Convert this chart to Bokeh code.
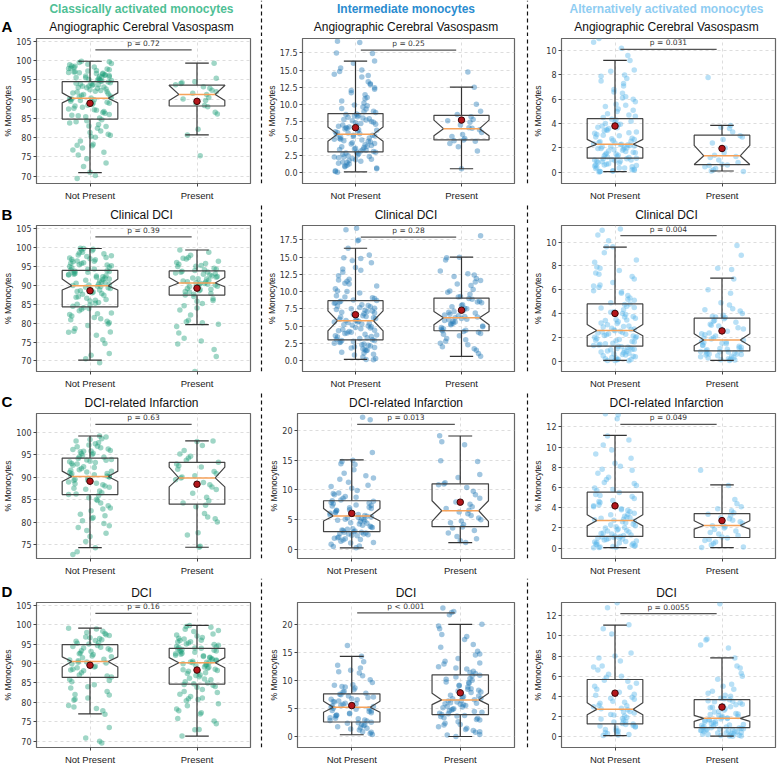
from bokeh.plotting import figure
from bokeh.layouts import row, column
from bokeh.models import ColumnDataSource, FixedTicker, Range1d
from bokeh.core.properties import value
from bokeh.embed import file_html
from bokeh.resources import INLINE

# ---------------------------------------------------------------- labels
OUTCOMES = ["Angiographic Cerebral Vasospasm", "Clinical DCI",
            "DCI-related Infarction", "DCI"]
ROW_LETTERS = ["A", "B", "C", "D"]
SUBSETS = ["Classically activated monocytes", "Intermediate monocytes",
           "Alternatively activated monocytes"]
GROUPS = ["Not Present", "Present"]
Y_LABEL = "% Monocytes"

# p-values, row-major (outcome x subset)
P_TEXT = ["p = 0.72", "p = 0.25", "p = 0.031",
          "p = 0.39", "p = 0.28", "p = 0.004",
          "p = 0.63", "p = 0.013", "p = 0.049",
          "p = 0.16", "p < 0.001", "p = 0.0055"]
P_LINE_Y = [102.75, 17.9, 10.1,
            102.9, 17.9, 10.54,
            101.8, 21.0, 12.24,
            102.9, 22.15, 12.22]

# y tick values and their labels
T_CLASS = [70, 75, 80, 85, 90, 95, 100, 105]
L_CLASS = ["70", "75", "80", "85", "90", "95", "100", "105"]
T_CLASS_C = [75, 80, 85, 90, 95, 100]
L_CLASS_C = ["75", "80", "85", "90", "95", "100"]
T_INT_AB = [0, 2.5, 5, 7.5, 10, 12.5, 15, 17.5]
L_INT_AB = ["0.0", "2.5", "5.0", "7.5", "10.0", "12.5", "15.0", "17.5"]
T_INT_CD = [0, 5, 10, 15, 20]
L_INT_CD = ["0", "5", "10", "15", "20"]
T_ALT_AB = [0, 2, 4, 6, 8, 10]
L_ALT_AB = ["0", "2", "4", "6", "8", "10"]
T_ALT_CD = [0, 2, 4, 6, 8, 10, 12]
L_ALT_CD = ["0", "2", "4", "6", "8", "10", "12"]

# box statistics per panel, [Not Present, Present]
WHISKER_LO = [[70.9, 80.7], [0.15, 0.6], [0.05, 0.1],
              [70.2, 79.6], [0.15, 0.6], [0.05, 0.05],
              [74.4, 74.5], [0.3, 1.17], [0.05, 0.05],
              [77.0, 71.3], [0.36, 0.05], [0.1, 0.05]]
Q1 = [[84.8, 88.2], [3.05, 4.8], [1.15, 0.63],
      [84.35, 87.45], [3.0, 4.32], [1.25, 0.85],
      [86.2, 84.07], [3.0, 3.85], [1.15, 1.05],
      [86.4, 84.7], [2.64, 3.95], [1.25, 0.89]]
MEDIAN = [[90.2, 91.2], [5.65, 6.45], [2.3, 1.35],
          [89.9, 90.65], [5.77, 6.2], [2.56, 1.76],
          [90.2, 89.9], [5.62, 6.52], [2.73, 2.23],
          [90.5, 90.2], [5.27, 6.59], [2.7, 1.81]]
Q3 = [[94.5, 93.6], [8.65, 8.4], [4.4, 3.05],
      [94.0, 93.85], [8.68, 9.06], [4.8, 3.6],
      [94.3, 93.36], [8.19, 11.04], [5.53, 3.42],
      [94.85, 93.9], [7.67, 11.08], [5.67, 3.66]]
WHISKER_HI = [[99.8, 99.3], [16.3, 12.5], [9.2, 3.85],
              [99.8, 99.4], [16.3, 15.0], [9.57, 6.96],
              [99.2, 98.1], [15.05, 19.06], [11.15, 6.25],
              [99.1, 99.8], [14.37, 20.1], [11.08, 7.81]]
MEAN = [[88.9, 89.4], [6.6, 7.7], [3.8, 1.95],
        [88.6, 89.3], [6.65, 7.3], [4.0, 2.53],
        [89.16, 88.5], [6.07, 7.96], [4.18, 2.72],
        [89.55, 88.3], [5.57, 7.85], [4.31, 2.93]]
NOTCH_LO = [[89.0, 89.6], [4.6, 5.4], [2.0, 0.63],
            [88.8, 89.65], [4.3, 5.2], [2.13, 1.28],
            [89.1, 87.9], [4.8, 4.73], [2.2, 1.88],
            [89.1, 88.9], [4.37, 5.75], [2.17, 1.51]]
NOTCH_HI = [[91.6, 93.5], [6.7, 7.7], [2.7, 2.2],
            [91.7, 92.1], [7.2, 7.1], [3.07, 2.3],
            [91.4, 92.3], [6.9, 8.2], [3.3, 2.7],
            [91.7, 91.5], [6.35, 7.78], [3.36, 2.1]]

# individual patient values (% of monocytes)
A1_NP = [69.4, 70.2, 71.0, 73.4, 74.5, 75.5, 76.2, 77.3, 77.9, 78.3, 79.1, 80.3, 80.6, 80.9, 81.7,
         82.4, 83.0, 83.4, 84.1, 84.6, 85.1, 85.4, 86.0, 86.3, 86.5, 87.1, 87.4, 87.6, 88.2, 88.4,
         88.9, 89.2, 89.4, 89.8, 90.0, 90.1, 90.4, 90.6, 91.0, 91.2, 91.6, 91.8, 92.0, 92.4, 92.6,
         92.9, 93.0, 93.1, 93.3, 93.6, 93.8, 93.9, 94.0, 94.2, 94.4, 94.7, 94.9, 95.1, 95.3, 95.6,
         95.7, 95.9, 96.0, 96.1, 96.3, 96.5, 96.6, 96.9, 97.0, 97.1, 97.3, 97.6, 97.8, 98.0, 98.3,
         98.6, 98.9, 99.2, 99.5, 99.8, 72.5, 76.8, 78.0, 80.1, 81.3, 82.9, 84.4, 85.7, 86.8, 87.9,
         88.6, 89.0, 89.6, 90.3, 90.8, 91.4, 92.2, 92.8, 93.4, 93.7, 94.1, 94.6, 95.0, 95.5, 95.8,
         96.2, 96.7, 97.4, 97.9, 98.2, 98.5, 99.0, 99.7, 91.9, 89.9, 87.2, 85.8, 83.8, 94.8, 96.8]
A1_P = [75.3, 80.7, 82.2, 86.1, 86.6, 88.0, 88.3, 88.9, 89.6, 90.0, 90.4, 91.2, 91.5, 91.9, 92.3,
        92.8, 93.2, 93.7, 94.0, 94.2, 94.5, 95.4, 99.3]
A2_NP = [0.1, 0.2, 0.6, 0.9, 1.1, 1.3, 1.4, 1.6, 1.7, 1.9, 2.0, 2.1, 2.3, 2.4, 2.5, 2.6, 2.8, 2.9,
         3.0, 3.0, 3.1, 3.3, 3.4, 3.5, 3.7, 3.8, 3.9, 4.1, 4.2, 4.3, 4.5, 4.6, 4.8, 4.9, 5.0, 5.2,
         5.3, 5.4, 5.5, 5.6, 5.7, 5.9, 6.0, 6.2, 6.4, 6.5, 6.7, 6.8, 7.0, 7.2, 7.3, 7.5, 7.6, 7.8,
         7.9, 8.1, 8.2, 8.4, 8.5, 8.6, 8.8, 9.0, 9.3, 9.6, 9.9, 10.2, 10.5, 11.0, 11.4, 12.0, 12.4,
         12.9, 13.3, 14.0, 14.4, 14.8, 15.3, 16.0, 16.3, 17.4, 17.5, 19.0, 19.2, 0.3, 0.7, 1.0,
         1.5, 1.8, 2.2, 2.7, 3.2, 3.6, 4.0, 4.4, 4.7, 5.1, 5.8, 6.1, 6.3, 6.6, 6.9, 7.1, 7.4, 7.7,
         8.0, 8.3, 8.9, 9.4, 9.8, 10.8, 11.7, 12.2, 13.0, 14.2, 15.0, 2.3, 3.4, 4.9, 5.5]
A2_P = [0.6, 3.2, 3.8, 4.3, 4.6, 4.7, 4.8, 5.0, 5.3, 5.6, 5.9, 6.3, 6.5, 6.6, 7.0, 7.4, 7.6, 7.8,
        8.2, 8.5, 9.0, 10.0, 12.5, 14.7]
A3_NP = [0.02, 0.05, 0.1, 0.15, 0.2, 0.3, 0.35, 0.4, 0.5, 0.55, 0.6, 0.65, 0.7, 0.8, 0.85, 0.9,
         0.95, 1.0, 1.05, 1.1, 1.2, 1.25, 1.3, 1.4, 1.45, 1.5, 1.6, 1.65, 1.7, 1.8, 1.85, 1.9, 1.95,
         2.0, 2.05, 2.1, 2.15, 2.2, 2.25, 2.3, 2.35, 2.45, 2.5, 2.6, 2.7, 2.8, 2.9, 3.0, 3.1, 3.2,
         3.3, 3.4, 3.5, 3.6, 3.7, 3.8, 3.95, 4.1, 4.2, 4.35, 4.5, 4.7, 4.8, 5.0, 5.2, 5.4, 5.6, 5.8,
         6.0, 6.2, 6.5, 6.8, 7.1, 7.5, 7.7, 8.0, 8.3, 8.4, 9.2, 9.6, 10.2, 10.7, 11.0, 0.05, 0.12,
         0.25, 0.45, 0.6, 0.75, 0.9, 1.0, 1.15, 1.35, 1.55, 1.75, 1.95, 2.1, 2.25, 2.4, 2.55, 2.75,
         3.05, 3.25, 3.45, 3.65, 3.9, 4.0, 4.3, 4.6, 5.1, 5.5, 6.1, 6.6, 7.3, 7.9, 1.1, 0.35]
A3_P = [0.05, 0.1, 0.2, 0.3, 0.45, 0.55, 0.6, 0.65, 0.8, 1.0, 1.2, 1.3, 1.4, 1.6, 2.0, 2.4, 2.7,
        2.9, 3.0, 3.3, 3.6, 3.7, 3.85, 7.8]
B1_NP = [69.5, 70.6, 72.0, 74.6, 75.6, 76.8, 77.6, 77.9, 78.6, 79.4, 80.1, 80.5, 80.9, 81.5, 81.9,
         82.3, 82.7, 83.3, 83.7, 84.1, 84.5, 85.0, 85.3, 85.9, 86.3, 86.6, 87.0, 87.4, 87.7, 88.1,
         88.3, 88.6, 88.9, 89.2, 89.4, 89.7, 89.8, 90.1, 90.4, 90.6, 90.9, 91.2, 91.4, 91.7, 92.0,
         92.3, 92.5, 92.8, 93.0, 93.2, 93.5, 93.7, 93.9, 94.1, 94.4, 94.7, 95.0, 95.2, 95.5, 95.8,
         96.0, 96.3, 96.5, 96.8, 97.1, 97.4, 97.7, 98.1, 98.4, 98.8, 99.2, 99.6, 99.9, 71.5, 77.7,
         79.8, 81.2, 82.5, 83.9, 85.5, 86.9, 87.9, 88.8, 89.5, 90.3, 90.8, 91.6, 92.2, 92.9, 93.4,
         93.8, 94.3, 94.9, 95.4, 95.9, 96.4, 96.9, 97.3, 97.9, 98.6, 99.4, 99.8, 90.0, 88.4, 86.1,
         84.8, 92.6]
B1_P = [67.2, 71.2, 73.0, 74.5, 75.3, 77.4, 79.1, 79.7, 80.4, 80.8, 82.2, 83.5, 84.6, 85.2, 85.8,
        86.5, 87.1, 87.5, 87.9, 88.3, 88.6, 88.9, 89.2, 89.5, 89.8, 90.1, 90.3, 90.5, 90.7, 90.9,
        91.2, 91.4, 91.7, 92.0, 92.2, 92.5, 92.8, 93.0, 93.3, 93.5, 93.8, 94.0, 94.3, 94.6, 95.0,
        95.3, 95.6, 96.1, 96.4, 97.0, 97.4, 98.0, 99.4, 76.0, 80.1, 84.0, 86.0, 87.7, 88.4, 89.0,
        89.7, 90.2, 90.6, 91.0, 91.8, 92.4, 93.1, 93.6, 94.2, 95.1, 95.8, 97.2, 98.8]
B2_NP = [0.1, 0.15, 0.5, 0.8, 1.1, 1.2, 1.5, 1.6, 1.8, 1.9, 2.1, 2.2, 2.3, 2.5, 2.6, 2.7, 2.8, 2.9,
         3.0, 3.1, 3.2, 3.4, 3.6, 3.7, 3.9, 4.0, 4.2, 4.3, 4.5, 4.6, 4.8, 4.9, 5.1, 5.2, 5.4, 5.5,
         5.6, 5.7, 5.8, 5.9, 6.1, 6.2, 6.4, 6.5, 6.6, 6.8, 7.0, 7.1, 7.3, 7.5, 7.6, 7.8, 8.0, 8.1,
         8.3, 8.5, 8.6, 8.8, 9.0, 9.1, 9.4, 9.8, 10.1, 10.4, 10.8, 11.2, 11.5, 11.8, 12.3, 12.8,
         13.1, 13.5, 14.2, 14.5, 14.9, 15.3, 16.3, 17.4, 17.5, 19.0, 19.2, 0.3, 0.9, 1.4, 1.7, 2.0,
         2.4, 2.9, 3.3, 3.8, 4.1, 4.4, 4.7, 5.0, 5.3, 5.6, 6.0, 6.3, 6.7, 6.9, 7.2, 7.4, 7.7, 7.9,
         8.4, 8.7, 9.2, 10.0, 11.1, 11.7, 13.3, 14.8, 5.8, 3.5]
B2_P = [0.6, 1.5, 1.7, 2.3, 2.5, 2.8, 3.2, 3.6, 3.9, 4.1, 4.3, 4.4, 4.6, 4.8, 5.0, 5.2, 5.4, 5.6,
        5.8, 5.9, 6.0, 6.1, 6.3, 6.5, 6.7, 6.9, 7.1, 7.3, 7.6, 7.8, 8.1, 8.4, 8.6, 8.9, 9.0, 9.3,
        9.6, 9.9, 10.3, 10.9, 11.1, 11.6, 11.9, 12.4, 12.6, 13.0, 14.6, 14.9, 15.0, 18.1, 1.0, 2.0,
        3.0, 3.8, 4.5, 4.9, 5.3, 5.7, 6.2, 6.6, 7.0, 7.5, 8.0, 8.5, 9.2, 10.1, 11.4, 12.2, 4.2, 6.4]
B3_NP = [0.02, 0.05, 0.1, 0.15, 0.2, 0.25, 0.35, 0.4, 0.5, 0.55, 0.6, 0.7, 0.75, 0.8, 0.9, 0.95,
         1.0, 1.1, 1.15, 1.2, 1.3, 1.35, 1.4, 1.5, 1.6, 1.65, 1.75, 1.8, 1.9, 2.0, 2.05, 2.15, 2.2,
         2.3, 2.35, 2.45, 2.5, 2.55, 2.65, 2.75, 2.85, 2.95, 3.05, 3.15, 3.3, 3.4, 3.5, 3.6, 3.75,
         3.9, 4.0, 4.15, 4.3, 4.45, 4.6, 4.75, 4.9, 5.1, 5.3, 5.5, 5.7, 5.9, 6.2, 6.4, 6.6, 6.9,
         7.1, 7.4, 7.6, 7.9, 8.3, 8.5, 9.1, 9.6, 10.1, 10.6, 11.0, 11.1, 0.05, 0.12, 0.3, 0.45,
         0.65, 0.85, 1.05, 1.25, 1.45, 1.7, 1.95, 2.1, 2.25, 2.4, 2.6, 2.9, 3.2, 3.45, 3.7, 4.1,
         4.5, 4.8, 5.2, 5.8, 6.3, 7.3, 7.8, 9.6, 2.7, 1.0]
B3_P = [0.05, 0.1, 0.15, 0.25, 0.3, 0.4, 0.45, 0.55, 0.6, 0.7, 0.75, 0.8, 0.85, 0.95, 1.05, 1.15,
        1.25, 1.35, 1.45, 1.55, 1.65, 1.75, 1.85, 1.95, 2.1, 2.2, 2.35, 2.5, 2.65, 2.8, 2.95, 3.1,
        3.25, 3.4, 3.55, 3.65, 3.75, 3.85, 4.0, 4.2, 4.4, 4.7, 4.9, 5.7, 6.0, 6.9, 7.7, 7.8, 8.9,
        9.7, 0.08, 0.2, 0.35, 0.5, 0.65, 0.78, 0.9, 1.1, 1.3, 1.6, 1.9, 2.3, 2.7, 3.0, 3.35, 3.7,
        4.3, 0.6, 1.0, 1.5]
C1_NP = [72.9, 73.5, 74.4, 76.9, 77.6, 78.2, 78.9, 79.8, 80.4, 80.9, 81.1, 81.8, 82.6, 83.2, 83.7,
         84.3, 84.9, 85.5, 86.0, 86.3, 86.6, 87.0, 87.4, 87.8, 88.1, 88.4, 88.7, 89.0, 89.3, 89.6,
         89.8, 90.1, 90.3, 90.5, 90.6, 90.8, 91.1, 91.4, 91.7, 92.0, 92.4, 92.7, 93.0, 93.3, 93.6,
         93.8, 93.9, 94.2, 94.5, 94.8, 95.1, 95.4, 95.7, 95.9, 96.0, 96.3, 96.6, 96.9, 97.2, 97.7,
         98.1, 98.6, 99.2, 75.8, 79.3, 81.5, 83.0, 85.1, 86.2, 87.6, 88.6, 89.4, 90.2, 90.9, 91.6,
         92.2, 93.1, 93.5, 94.0, 94.6, 95.3, 95.8, 96.2, 96.8, 97.5, 98.4, 99.0, 91.2]
C1_P = [74.5, 74.7, 77.2, 77.7, 80.1, 80.8, 81.2, 82.0, 83.5, 83.8, 84.3, 84.8, 85.6, 86.5, 87.3,
        87.9, 88.4, 88.9, 89.5, 89.9, 90.1, 90.4, 90.9, 91.3, 91.8, 92.3, 92.6, 93.0, 93.4, 93.8,
        94.3, 94.7, 95.2, 96.0, 97.1, 98.0, 98.1]
C2_NP = [0.3, 0.5, 0.9, 1.2, 1.4, 1.6, 1.8, 1.9, 2.1, 2.3, 2.4, 2.5, 2.6, 2.7, 2.8, 2.9, 3.0, 3.1,
         3.3, 3.5, 3.7, 3.9, 4.1, 4.3, 4.5, 4.7, 4.9, 5.0, 5.2, 5.3, 5.5, 5.6, 5.7, 5.9, 6.1, 6.3,
         6.5, 6.7, 6.9, 7.1, 7.3, 7.5, 7.7, 7.9, 8.1, 8.3, 8.6, 8.9, 9.2, 9.5, 9.9, 10.3, 10.8,
         11.3, 11.8, 12.4, 12.8, 13.4, 14.3, 14.8, 15.0, 16.3, 21.8, 22.2, 0.6, 1.1, 1.7, 2.0, 2.6,
         2.9, 3.4, 3.8, 4.4, 4.8, 5.4, 5.8, 6.2, 6.6, 7.0, 7.4, 7.8, 8.2, 8.8, 9.4, 10.6, 12.0,
         14.4, 3.2, 5.1]
C2_P = [1.2, 1.5, 1.8, 2.2, 2.8, 3.2, 3.6, 3.8, 4.2, 4.5, 4.8, 5.0, 5.3, 5.7, 6.0, 6.3, 6.6, 6.9,
        7.2, 7.6, 8.0, 8.6, 9.2, 9.8, 10.4, 10.9, 11.0, 11.2, 12.1, 12.6, 14.8, 14.9, 17.6, 18.1,
        19.1]
C3_NP = [0.03, 0.05, 0.1, 0.15, 0.2, 0.3, 0.4, 0.5, 0.55, 0.6, 0.7, 0.8, 0.85, 0.95, 1.0, 1.1,
         1.15, 1.2, 1.3, 1.4, 1.5, 1.6, 1.7, 1.8, 1.9, 2.0, 2.1, 2.2, 2.35, 2.5, 2.6, 2.75, 2.85,
         2.95, 3.05, 3.15, 3.3, 3.45, 3.6, 3.75, 3.9, 4.1, 4.3, 4.5, 4.7, 4.9, 5.1, 5.3, 5.5, 5.7,
         5.95, 6.2, 6.5, 6.8, 7.0, 7.4, 7.8, 8.1, 8.4, 8.9, 9.7, 10.2, 10.7, 11.1, 12.8, 13.2, 13.3,
         0.08, 0.25, 0.45, 0.65, 0.9, 1.05, 1.25, 1.45, 1.75, 2.05, 2.3, 2.65, 3.0, 3.35, 3.8, 4.2,
         4.6, 5.2, 5.8, 6.4, 7.7, 9.3, 1.0, 0.35, 2.8]
C3_P = [0.05, 0.1, 0.3, 0.45, 0.6, 0.75, 0.85, 1.0, 1.1, 1.25, 1.4, 1.55, 1.7, 1.85, 2.0, 2.1,
        2.2, 2.3, 2.45, 2.6, 2.75, 2.9, 3.0, 3.2, 3.35, 3.5, 3.7, 3.9, 4.1, 4.4, 4.8, 6.2, 7.7]
D1_NP = [69.5, 70.0, 70.8, 73.5, 76.9, 77.8, 78.4, 79.2, 80.6, 80.8, 81.1, 81.9, 82.8, 83.7, 84.5,
         85.3, 85.9, 86.5, 87.0, 87.6, 88.1, 88.5, 88.9, 89.3, 89.7, 90.1, 90.4, 90.7, 91.1, 91.5,
         91.9, 92.3, 92.7, 93.1, 93.5, 93.8, 94.2, 94.6, 95.0, 95.3, 95.7, 96.1, 96.4, 96.8, 97.2,
         97.7, 98.3, 98.9, 99.1, 78.8, 82.0, 84.0, 85.6, 86.8, 88.3, 89.1, 89.9, 90.9, 91.7, 92.5,
         93.3, 94.0, 94.4, 95.2, 95.9, 96.6, 97.4, 98.0, 90.3]
D1_P = [71.3, 72.9, 74.5, 75.2, 75.8, 77.3, 77.8, 78.3, 79.6, 80.4, 80.9, 81.5, 82.1, 82.8, 83.3,
        83.9, 84.4, 84.8, 85.3, 85.8, 86.2, 86.6, 87.0, 87.4, 87.8, 88.2, 88.5, 88.8, 89.1, 89.4,
        89.6, 89.9, 90.1, 90.3, 90.6, 90.9, 91.2, 91.5, 91.8, 92.1, 92.4, 92.6, 92.9, 93.2, 93.4,
        93.7, 93.9, 94.1, 94.4, 94.7, 95.0, 95.3, 95.6, 95.9, 96.3, 96.7, 97.1, 97.6, 98.2, 98.8,
        99.3, 99.8, 73.0, 77.0, 79.1, 80.7, 82.5, 84.1, 85.0, 86.0, 86.9, 87.6, 88.4, 89.0, 89.7,
        90.2, 90.7, 91.0, 91.6, 92.0, 92.5, 93.0, 93.6, 94.0, 94.3, 94.9, 95.5, 96.0, 96.5, 97.3,
        98.5, 99.5, 88.0, 90.4, 93.3, 84.6, 81.1]
D2_NP = [0.4, 0.6, 0.9, 1.2, 1.4, 1.6, 1.8, 2.0, 2.2, 2.4, 2.6, 2.8, 3.0, 3.2, 3.4, 3.7, 3.9, 4.1,
         4.3, 4.5, 4.7, 4.9, 5.1, 5.3, 5.4, 5.6, 5.8, 6.0, 6.2, 6.4, 6.6, 6.8, 7.0, 7.3, 7.6, 7.8,
         8.1, 8.4, 8.7, 9.0, 9.3, 9.7, 10.2, 10.9, 11.4, 11.9, 12.3, 12.8, 13.4, 14.4, 16.3, 0.8,
         1.5, 2.1, 2.5, 2.9, 3.3, 3.8, 4.2, 4.6, 5.0, 5.5, 5.9, 6.3, 6.7, 7.1, 7.5, 8.0, 8.9, 9.2,
         11.6]
D2_P = [0.05, 0.4, 0.8, 1.1, 1.5, 1.8, 2.1, 2.4, 2.7, 3.0, 3.3, 3.6, 3.8, 4.0, 4.2, 4.4, 4.6, 4.8,
        5.0, 5.2, 5.4, 5.6, 5.8, 6.0, 6.2, 6.4, 6.6, 6.8, 7.0, 7.2, 7.4, 7.7, 8.0, 8.3, 8.6, 8.9,
        9.2, 9.5, 9.8, 10.1, 10.4, 10.7, 11.0, 11.3, 11.7, 12.1, 12.5, 13.0, 13.5, 14.0, 14.8,
        15.3, 16.0, 17.4, 18.3, 19.3, 20.1, 21.8, 22.2, 22.4, 23.0, 0.3, 1.3, 2.2, 3.1, 3.7, 4.1,
        4.5, 4.9, 5.3, 5.7, 6.1, 6.5, 6.9, 7.3, 7.9, 8.5, 9.1, 9.7, 10.3, 10.9, 11.5, 12.3, 13.2,
        14.6, 16.5, 17.9, 19.8, 3.4, 5.9, 8.2, 0.9]
D3_NP = [0.1, 0.2, 0.3, 0.45, 0.55, 0.7, 0.85, 1.0, 1.1, 1.2, 1.3, 1.45, 1.6, 1.75, 1.9, 2.05,
         2.2, 2.35, 2.5, 2.65, 2.8, 2.95, 3.1, 3.3, 3.5, 3.7, 3.9, 4.1, 4.4, 4.7, 5.0, 5.3, 5.6,
         5.9, 6.2, 6.6, 7.0, 7.5, 8.0, 8.3, 10.2, 10.7, 11.1, 12.8, 13.3, 0.15, 0.4, 0.6, 0.95,
         1.25, 1.5, 1.8, 2.15, 2.45, 2.75, 3.05, 3.4, 3.8, 4.2, 4.9, 5.5, 6.0, 6.9, 7.8, 1.05]
D3_P = [0.02, 0.05, 0.1, 0.15, 0.2, 0.25, 0.3, 0.35, 0.4, 0.45, 0.5, 0.55, 0.6, 0.65, 0.7, 0.75,
        0.8, 0.85, 0.9, 0.95, 1.0, 1.1, 1.2, 1.3, 1.4, 1.5, 1.6, 1.7, 1.8, 1.9, 2.0, 2.1, 2.2, 2.3,
        2.45, 2.6, 2.75, 2.9, 3.05, 3.2, 3.35, 3.5, 3.65, 3.8, 4.0, 4.3, 4.7, 5.2, 5.7, 6.3, 7.0,
        7.8, 8.8, 9.1, 9.6, 9.7, 13.2, 0.05, 0.12, 0.22, 0.38, 0.48, 0.62, 0.78, 0.88, 1.05, 1.25,
        1.45, 1.65, 1.85, 2.05, 2.25, 2.5, 2.85, 3.15, 3.45, 3.75, 4.1, 4.5, 5.0, 6.0, 6.8, 0.7,
        1.15, 1.75, 2.95, 3.55]

POINTS = [(A1_NP, A1_P), (A2_NP, A2_P), (A3_NP, A3_P),
          (B1_NP, B1_P), (B2_NP, B2_P), (B3_NP, B3_P),
          (C1_NP, C1_P), (C2_NP, C2_P), (C3_NP, C3_P),
          (D1_NP, D1_P), (D2_NP, D2_P), (D3_NP, D3_P)]
Y_TICKS = [(T_CLASS, L_CLASS), (T_INT_AB, L_INT_AB), (T_ALT_AB, L_ALT_AB),
           (T_CLASS, L_CLASS), (T_INT_AB, L_INT_AB), (T_ALT_AB, L_ALT_AB),
           (T_CLASS_C, L_CLASS_C), (T_INT_CD, L_INT_CD), (T_ALT_CD, L_ALT_CD),
           (T_CLASS, L_CLASS), (T_INT_CD, L_INT_CD), (T_ALT_CD, L_ALT_CD)]

# ---------------------------------------------------------------- layout / style
Y_LIMITS = [(68.1, 105.7), (-1.55, 19.6), (-0.93, 11.0),
            (67.2, 105.9), (-1.6, 19.6), (-0.88, 11.39),
            (72.0, 104.2), (-1.5, 22.84), (-1.03, 13.32),
            (68.36, 105.7), (-1.92, 24.0), (-1.09, 13.32)]
COL_W = [259, 261, 248]
BORDER_L = [32, 34, 27]
BORDER_R = [9, 10, 3]
SEP_W = [4, 6]
STRIP_H = [36, 20, 20, 22]          # title band above each row of panels
PANEL_H = [167, 168, 167, 178]
BORDER_T = 2
BORDER_B = [20, 20, 20, 31]
TITLE_MID = [9.3, 8.3, 9.0, 7.5]    # vertical centre of the texts inside the band
LETTER_MID = [9.8, 8.8, 9.8, 8.6]
HEADER_MID = 27.7
PAGE_W = sum(COL_W) + sum(SEP_W)

POINT_COLORS = ["#1b9e77", "#1f77b4", "#56b4e9"]
HEADER_COLORS = ["#4fbf95", "#2a8ccf", "#8fcdf2"]
BOX_HALF, NOTCH_HALF, CAP_HALF = 0.26, 0.17, 0.11
DASH = "4 3"

# horizontal spread of the strip points around each group centre
JITTER = [-0.12, 0.07, 0.18, -0.03, 0.11, -0.17, 0.02, 0.14, -0.08, 0.19, -0.15, 0.05, -0.01,
          0.16, -0.11, 0.09, -0.19, 0.03, 0.12, -0.06, 0.17, -0.14, 0.0, 0.08, -0.18, 0.13,
          -0.04, 0.2, -0.09, 0.06, -0.16, 0.1, -0.02, 0.15, -0.13, 0.04, -0.07, 0.18, -0.1,
          0.01, -0.2]

TEXT_FONT = "Liberation Sans"
NUM_FONT = "DejaVu Sans"

# page x of each column's left edge, frame centre and of the separators
COL_X0 = [0, COL_W[0] + SEP_W[0], COL_W[0] + SEP_W[0] + COL_W[1] + SEP_W[1]]
FRAME_CX = [COL_X0[c] + BORDER_L[c] + (COL_W[c] - BORDER_L[c] - BORDER_R[c]) / 2
            for c in range(3)]
SEP_X = [COL_W[0] + SEP_W[0] / 2, COL_X0[2] - SEP_W[1] / 2]


def blank(width, height, xr, yr):
    f = figure(width=width, height=height, x_range=xr, y_range=yr, output_backend="svg",
               toolbar_location=None, title=None, min_border=0, x_axis_location=None,
               y_axis_location=None, background_fill_color="white",
               border_fill_color="white")
    f.outline_line_color = None
    f.grid.visible = False
    return f


def make_strip(r):
    h = STRIP_H[r]
    s = blank(PAGE_W, h, Range1d(0, PAGE_W), Range1d(0, h))
    s.segment(x0=SEP_X, y0=[0, 0], x1=SEP_X, y1=[h, h], line_color="#111111",
              line_width=1.2, line_dash=DASH)
    s.text(x=FRAME_CX, y=[TITLE_MID[r]] * 3, text=[OUTCOMES[r]] * 3, text_align="center",
           text_baseline="middle", text_font=value(TEXT_FONT), text_font_size="12px",
           text_color="#111111")
    s.text(x=[1], y=[LETTER_MID[r]], text=[ROW_LETTERS[r]], text_align="left",
           text_baseline="middle", text_font=value(TEXT_FONT), text_font_size="15px",
           text_font_style="bold", text_color="#000000")
    if r == 0:
        src = ColumnDataSource(dict(x=FRAME_CX, y=[HEADER_MID] * 3, t=SUBSETS,
                                    c=HEADER_COLORS))
        s.text(x="x", y="y", text="t", text_color="c", source=src, text_align="center",
               text_baseline="middle", text_font=value(TEXT_FONT),
               text_font_size="12px", text_font_style="bold")
    return s


def make_separator(w, h):
    s = blank(w, h, Range1d(0, 1), Range1d(0, 1))
    s.segment(x0=[0.5], y0=[0], x1=[0.5], y1=[1], line_color="#111111", line_width=1.2,
              line_dash=DASH)
    return s


def make_panel(r, c):
    k = 3 * r + c
    p = figure(width=COL_W[c], height=PANEL_H[r], x_range=Range1d(0.5, 2.5),
               y_range=Range1d(*Y_LIMITS[k]), output_backend="svg", toolbar_location=None,
               title=None, min_border_left=BORDER_L[c], min_border_right=BORDER_R[c],
               min_border_top=BORDER_T, min_border_bottom=BORDER_B[r],
               background_fill_color="white", border_fill_color="white")

    # strip of individual values
    xs, ys = [], []
    for g, vals in enumerate(POINTS[k]):
        for i, v in enumerate(vals):
            xs.append(g + 1 + JITTER[(i * 11 + k * 5 + g * 17) % len(JITTER)])
            ys.append(v)
    p.scatter(x="x", y="y", source=ColumnDataSource(dict(x=xs, y=ys)), size=5.5,
              fill_color=POINT_COLORS[c], fill_alpha=0.42, line_color=None)

    # notched boxes with whiskers
    bx, by = [], []
    wx, wy0, wy1 = [], [], []
    cx0, cx1, cy = [], [], []
    for g in range(2):
        m = g + 1
        lo, q1, md, q3, hi = WHISKER_LO[k][g], Q1[k][g], MEDIAN[k][g], Q3[k][g], WHISKER_HI[k][g]
        nl, nh = NOTCH_LO[k][g], NOTCH_HI[k][g]
        bx.append([m - BOX_HALF, m - BOX_HALF, m - NOTCH_HALF, m - BOX_HALF, m - BOX_HALF,
                   m + BOX_HALF, m + BOX_HALF, m + NOTCH_HALF, m + BOX_HALF, m + BOX_HALF])
        by.append([q1, nl, md, nh, q3, q3, nh, md, nl, q1])
        wx += [m, m]
        wy0 += [q1, q3]
        wy1 += [lo, hi]
        cx0 += [m - CAP_HALF, m - CAP_HALF]
        cx1 += [m + CAP_HALF, m + CAP_HALF]
        cy += [lo, hi]
    p.segment(x0=wx, y0=wy0, x1=wx, y1=wy1, line_color="#333333", line_width=1.2)
    p.segment(x0=cx0, y0=cy, x1=cx1, y1=cy, line_color="#333333", line_width=1.2)
    p.patches(bx, by, fill_color=None, line_color="#444444", line_width=1.2)
    p.segment(x0=[1 - NOTCH_HALF, 2 - NOTCH_HALF], y0=MEDIAN[k],
              x1=[1 + NOTCH_HALF, 2 + NOTCH_HALF], y1=MEDIAN[k],
              line_color="#f6a25a", line_width=1.5)
    p.scatter(x=[1, 2], y=MEAN[k], size=6.5, fill_color="#b3161b", line_color="#3a0606",
              line_width=1)

    # significance bar
    p.segment(x0=[1.05], y0=[P_LINE_Y[k]], x1=[1.95], y1=[P_LINE_Y[k]],
              line_color="#555555", line_width=1.3)
    p.text(x=[1.5], y=[P_LINE_Y[k]], text=[P_TEXT[k]], text_align="center",
           text_baseline="bottom", y_offset=-2, text_font=value(NUM_FONT),
           text_font_size="7.5px", text_color="#333333")

    # axes
    p.xaxis.ticker = FixedTicker(ticks=[1, 2])
    p.xaxis.major_label_overrides = {1: GROUPS[0], 2: GROUPS[1]}
    p.xaxis.major_label_text_font = TEXT_FONT
    p.xaxis.major_label_text_font_size = "9.5px"
    p.xaxis.major_label_text_color = "#222222"
    p.xaxis.major_label_standoff = 3
    ticks, labels = Y_TICKS[k]
    p.yaxis.ticker = FixedTicker(ticks=ticks)
    p.yaxis.major_label_overrides = dict(zip(ticks, labels))
    p.yaxis.major_label_text_font = NUM_FONT
    p.yaxis.major_label_text_font_size = "8px"
    p.yaxis.major_label_text_color = "#333333"
    p.yaxis.major_label_standoff = 2
    p.yaxis.axis_label = Y_LABEL
    p.yaxis.axis_label_text_font = TEXT_FONT
    p.yaxis.axis_label_text_font_size = "8.5px"
    p.yaxis.axis_label_text_font_style = "normal"
    p.yaxis.axis_label_text_color = "#222222"
    p.yaxis.axis_label_standoff = 0
    for ax in (p.xaxis[0], p.yaxis[0]):
        ax.axis_line_color = "#666666"
        ax.major_tick_line_color = "#444444"
        ax.major_tick_out = 3
        ax.major_tick_in = 0
        ax.minor_tick_line_color = None
    p.outline_line_color = "#666666"
    p.outline_line_width = 1.2
    p.grid.grid_line_color = "#d4d4d4"
    p.grid.grid_line_dash = "3 3"
    p.grid.grid_line_width = 0.8
    return p


rows = []
for r in range(4):
    rows.append(make_strip(r))
    rows.append(row(make_panel(r, 0), make_separator(SEP_W[0], PANEL_H[r]),
                    make_panel(r, 1), make_separator(SEP_W[1], PANEL_H[r]),
                    make_panel(r, 2)))
layout = column(*rows)

open("out.html", "w").write(file_html(layout, INLINE))
